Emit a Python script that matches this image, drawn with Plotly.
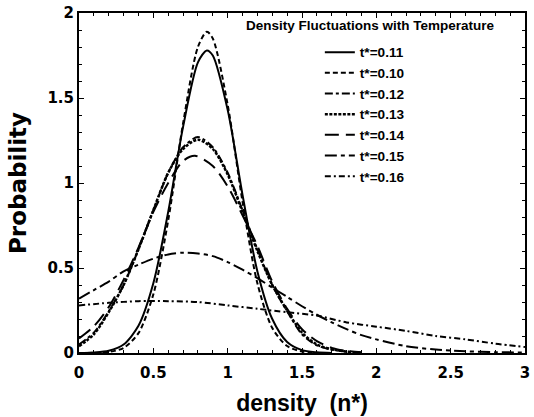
import plotly.graph_objects as go

# ---- data ----
x_011 = [0.0, 0.1, 0.2, 0.3, 0.4, 0.5, 0.6, 0.7, 0.8, 0.86, 0.9, 1.0, 1.1, 1.2, 1.3, 1.4, 1.5, 1.6, 1.7]
y_011 = [0.0, 0.003, 0.013, 0.05, 0.16, 0.41, 0.83, 1.33, 1.71, 1.78, 1.75, 1.43, 0.93, 0.48, 0.20, 0.065, 0.017, 0.004, 0.0]

x_010 = [0.0, 0.1, 0.2, 0.3, 0.4, 0.5, 0.6, 0.7, 0.8, 0.86, 0.9, 1.0, 1.1, 1.2, 1.3, 1.4, 1.5, 1.6]
y_010 = [0.0, 0.001, 0.006, 0.03, 0.117, 0.345, 0.78, 1.35, 1.80, 1.89, 1.85, 1.46, 0.89, 0.41, 0.147, 0.041, 0.009, 0.0]

x_012 = [0.0, 0.1, 0.2, 0.3, 0.4, 0.5, 0.6, 0.7, 0.8, 0.9, 1.0, 1.1, 1.2, 1.3, 1.4, 1.5, 1.6, 1.7, 1.8, 1.9]
y_012 = [0.05, 0.12, 0.245, 0.40, 0.61, 0.84, 1.06, 1.21, 1.27, 1.21, 1.06, 0.84, 0.61, 0.40, 0.245, 0.11, 0.045, 0.02, 0.008, 0.002]

x_013 = [0.0, 0.1, 0.2, 0.3, 0.4, 0.5, 0.6, 0.7, 0.8, 0.9, 1.0, 1.1, 1.2, 1.3, 1.4, 1.5, 1.6, 1.7, 1.8, 1.9]
y_013 = [0.04, 0.11, 0.24, 0.40, 0.61, 0.84, 1.06, 1.20, 1.255, 1.20, 1.05, 0.83, 0.60, 0.40, 0.25, 0.12, 0.05, 0.022, 0.008, 0.002]

x_014 = [0.0, 0.1, 0.2, 0.3, 0.4, 0.5, 0.6, 0.7, 0.78, 0.9, 1.0, 1.1, 1.2, 1.3, 1.4, 1.5, 1.6, 1.7, 1.8, 1.9]
y_014 = [0.085, 0.157, 0.27, 0.43, 0.62, 0.83, 1.00, 1.13, 1.16, 1.10, 0.98, 0.81, 0.63, 0.42, 0.26, 0.14, 0.07, 0.03, 0.012, 0.004]

x_015 = [0.0, 0.1, 0.2, 0.3, 0.4, 0.5, 0.6, 0.7, 0.8, 0.9, 1.0, 1.1, 1.2, 1.3, 1.4, 1.5, 1.6, 1.7, 1.8, 1.9, 2.0, 2.2, 2.4, 2.6, 2.8, 3.0]
y_015 = [0.32, 0.37, 0.42, 0.48, 0.52, 0.555, 0.58, 0.59, 0.585, 0.57, 0.535, 0.49, 0.44, 0.385, 0.33, 0.275, 0.225, 0.18, 0.14, 0.105, 0.08, 0.04, 0.02, 0.01, 0.005, 0.003]

x_016 = [0.0, 0.2, 0.4, 0.6, 0.8, 1.0, 1.2, 1.4, 1.6, 1.8, 2.0, 2.2, 2.4, 2.6, 2.8, 3.0]
y_016 = [0.28, 0.295, 0.305, 0.305, 0.30, 0.28, 0.26, 0.24, 0.22, 0.18, 0.155, 0.13, 0.10, 0.08, 0.055, 0.035]

labels = ["t*=0.11", "t*=0.10", "t*=0.12", "t*=0.13", "t*=0.14", "t*=0.15", "t*=0.16"]
series_x = [x_011, x_010, x_012, x_013, x_014, x_015, x_016]
series_y = [y_011, y_010, y_012, y_013, y_014, y_015, y_016]
dashes = ["solid", "5px,3px", "8px,3px,3px,3px", "3px,1.5px", "14px,7px", "12px,4px,4px,4px", "6px,3px,2px,3px"]
widths = [2, 2, 2, 2.5, 2, 2, 2]

x_ticks = [0, 0.5, 1, 1.5, 2, 2.5, 3]
x_ticklabels = ["0", "0.5", "1", "1.5", "2", "2.5", "3"]
y_ticks = [0, 0.5, 1, 1.5, 2]
y_ticklabels = ["0", "0.5", "1", "1.5", "2"]

fig = go.Figure()
for xs, ys, name, d, w in zip(series_x, series_y, labels, dashes, widths):
    fig.add_trace(go.Scatter(
        x=xs, y=ys, name=name, mode="lines",
        line=dict(color="black", width=w, dash=d, shape="spline", smoothing=0.8),
    ))

tickfont = dict(family="DejaVu Sans", size=15, color="black", weight="bold")

fig.update_layout(
    width=534, height=417,
    margin=dict(l=79, r=4, t=11, b=64),
    paper_bgcolor="white", plot_bgcolor="white",
    showlegend=True,
    legend=dict(
        x=0.54, y=0.93, xanchor="left", yanchor="top",
        bgcolor="rgba(0,0,0,0)",
        font=dict(family="Liberation Sans", size=13.6, color="black", weight="bold"),
        itemwidth=30, tracegroupgap=0,
    ),
    xaxis=dict(
        range=[0, 3], tickvals=x_ticks, ticktext=x_ticklabels,
        showline=True, linecolor="black", linewidth=2, mirror="ticks",
        ticks="inside", ticklen=5, tickwidth=1, tickcolor="black",
        minor=dict(dtick=0.1, ticks="inside", ticklen=3, tickcolor="black"),
        showgrid=False, zeroline=False, tickfont=tickfont, ticklabelstandoff=5,
        title=dict(text="density  (n*)", font=dict(family="Liberation Sans", size=23, color="black", weight="bold"), standoff=14),
    ),
    yaxis=dict(
        range=[0, 2], tickvals=y_ticks, ticktext=y_ticklabels,
        showline=True, linecolor="black", linewidth=2, mirror="ticks",
        ticks="inside", ticklen=5, tickwidth=1, tickcolor="black",
        minor=dict(dtick=0.1, ticks="inside", ticklen=3, tickcolor="black"),
        showgrid=False, zeroline=False, tickfont=tickfont,
        title=dict(text="Probability", font=dict(family="DejaVu Sans", size=23, color="black", weight="bold"), standoff=14),
    ),
    annotations=[dict(
        text="Density Fluctuations with Temperature",
        xref="paper", yref="paper", x=0.654, y=0.962, xanchor="center", yanchor="middle",
        showarrow=False, font=dict(family="Liberation Sans", size=13.5, color="black", weight="bold"),
    )],
)

fig.write_html("out.html")
